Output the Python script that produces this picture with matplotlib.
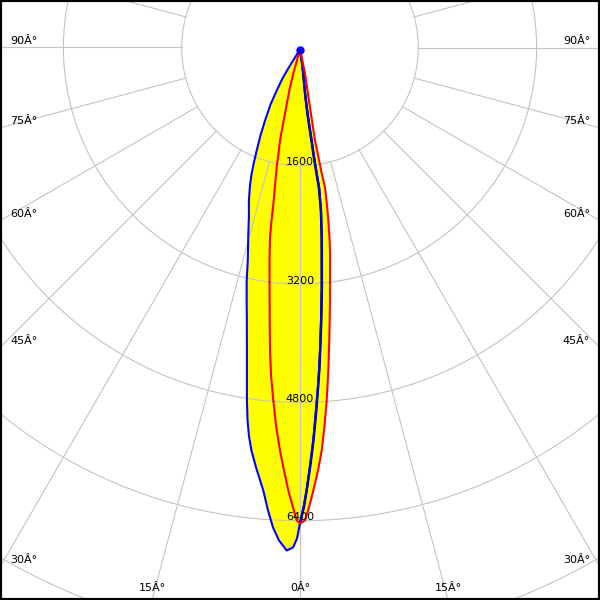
import numpy as np
import matplotlib
matplotlib.use("Agg")
import matplotlib.pyplot as plt

# ==== DATA (angle from nadir in degrees, intensity in cd) ====
blue_angle = [-37, -32, -31.3, -29.6, -28.2, -26.2, -24.7, -23.2, -22.2, -21.3, -20.2, -18.7, -17.1,
              -15.4, -13.9, -13.0, -12.0, -11.1, -10.0, -8.6, -8.05, -7.5, -6.9, -6.0, -4.76, -3.97,
              -3.23, -2.45, -1.52, -0.8, -0.35, -0.24, 0,
              0.44, 0.87, 1.38, 1.95, 2.42, 2.97, 3.39, 3.8, 4.43, 5.2, 5.87, 6.58, 7.43, 7.9,
              7.7, 7.45, 7.3, 6.93, 6.6, 6.68, 7.8, 8.7, 10]
blue_cd = [0, 257, 443, 638, 844, 1071, 1280, 1486, 1651, 1799, 1960, 2156, 2349,
           2637, 2940, 3205, 3471, 3735, 4134, 4801, 5068, 5279, 5464, 5684, 5984, 6250,
           6475, 6646, 6778, 6735, 6614, 6546, 6410,
           6195, 5964, 5628, 5288, 4954, 4618, 4349, 4080, 3676, 3232, 2869, 2556, 2196, 1885,
           1690, 1459, 1240, 1008, 790, 558, 327, 178, 0]

red_angle = [-16, -15.6, -14.6, -13.2, -12.4, -11.68, -11.2, -10.42, -9.8, -9.46, -9.07, -8.23, -7.2,
             -6.38, -5.69, -5.08, -4.35, -3.65, -2.86, -2.18, -1.52, -0.88, -0.4, 0,
             0.61, 1.19, 1.73, 2.45, 3.1, 3.73, 4.35, 5.04, 5.75, 6.25, 6.8, 7.56, 8.37, 8.92,
             9.4, 9.82, 10.27, 9.93, 9.72, 9.36, 9.78, 11.8, 12]
red_cd = [0, 337, 573, 889, 1260, 1436, 1627, 1870, 2114, 2345, 2575, 2883, 3286,
          3688, 4091, 4426, 4761, 5096, 5430, 5698, 5967, 6195, 6370, 6410,
          6370, 6169, 5967, 5699, 5431, 5096, 4761, 4358, 3956, 3687, 3419, 3084, 2789, 2574,
          2344, 2141, 1896, 1703, 1482, 1247, 797, 331, 0]

black_angle = [0, 0.5, 0.9, 1.45, 2.0, 2.5, 3.0, 3.45, 3.85, 4.5, 5.25, 5.9, 6.6, 7.4, 7.8,
               7.6, 7.35, 7.2, 6.85, 6.55, 6.6, 7.7, 8.6, 10]
black_cd = [6410, 6180, 5940, 5610, 5270, 4940, 4610, 4340, 4070, 3670, 3230, 2870, 2560, 2200, 1890,
            1700, 1470, 1250, 1010, 795, 560, 330, 180, 0]

ring_values = [1600, 3200, 4800, 6400, 8000]
ring_labels = ["1600", "3200", "4800", "6400"]
spoke_angles = list(range(0, 360, 15))
angle_labels = [0, 15, 30, 45, 60, 75, 90]

# ==== LAYOUT ====
PX = 1600 / 118.3          # cd per pixel
CY = 47.5                  # grid centre, pixels from top
X0, X1 = -300 * PX, 300 * PX
Y0, Y1 = -(600 - CY) * PX, CY * PX
OFF = -2 * PX              # curves sit a touch below the grid centre
GRID = "#c4c4c4"


def to_xy(angle, cd, off=0.0):
    a = np.radians(np.asarray(angle, dtype=float))
    r = np.asarray(cd, dtype=float)
    return r * np.sin(a), -r * np.cos(a) + off


fig = plt.figure(figsize=(6, 6), dpi=100)
ax = fig.add_axes([0, 0, 1, 1])
ax.set_xlim(X0, X1)
ax.set_ylim(Y0, Y1)
ax.set_xticks([])
ax.set_yticks([])
for s in ax.spines.values():
    s.set_linewidth(3)
    s.set_color("black")

# --- grid ---
t = np.linspace(0, 2 * np.pi, 720)
for v in ring_values:
    ax.plot(v * np.cos(t), v * np.sin(t), color=GRID, lw=0.8, zorder=2)
for a in spoke_angles:
    xs, ys = to_xy([a, a], [ring_values[0], 20000])
    ax.plot(xs, ys, color=GRID, lw=0.8, zorder=2)

# --- curves ---
bx, by = to_xy(blue_angle, blue_cd, OFF)
rx, ry = to_xy(red_angle, red_cd, OFF)
kx, ky = to_xy(black_angle, black_cd, OFF)
ax.fill(bx, by, color="#ffff00", lw=0, zorder=1)
ax.fill(rx, ry, color="#ffff00", lw=0, zorder=1)
ax.plot(kx, ky, color="black", lw=1.8, zorder=3)
ax.plot(bx, by, color="#0000ff", lw=1.5, zorder=4)
ax.plot(rx, ry, color="#ff0000", lw=1.5, zorder=4)
ax.plot([0], [OFF], "o", color="#0000ff", ms=5, zorder=5)

# --- ring labels ---
for v, lab in zip(ring_values, ring_labels):
    ax.text(0, -v + 3.5 * PX, lab, ha="center", va="center", fontsize=8, zorder=6)

# --- angle labels along the frame ---
for a in angle_labels:
    s = np.sin(np.radians(a))
    c = np.cos(np.radians(a))
    lab = f"{a}Â°"
    if a >= 30:
        y = -(X1 / s) * c + 7 * PX
        ax.text(X0 + 10 * PX, y, lab, ha="left", va="center", fontsize=8, zorder=6)
        ax.text(X1 - 10 * PX, y, lab, ha="right", va="center", fontsize=8, zorder=6)
    else:
        x = (-Y0 / c) * s
        y = Y0 + 12 * PX
        ax.text(-x, y, lab, ha="center", va="center", fontsize=8, zorder=6)
        if a > 0:
            ax.text(x, y, lab, ha="center", va="center", fontsize=8, zorder=6)

fig.savefig("out.png", dpi=100)
